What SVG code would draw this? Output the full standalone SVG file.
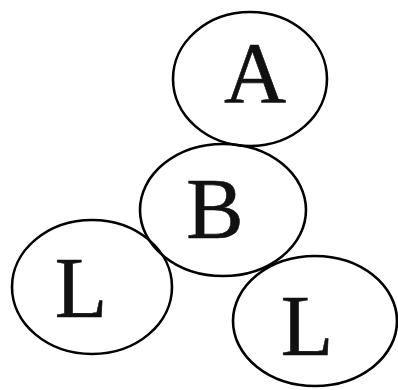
<svg xmlns="http://www.w3.org/2000/svg" width="398" height="390" viewBox="0 0 398 390">
<style>
.n{fill:none;stroke:#000;stroke-width:2.6}
.t{font-family:"Liberation Serif","Times New Roman",serif;font-size:86px;fill:#111;stroke:#111;stroke-width:0.6;text-anchor:middle}
</style>
<rect width="398" height="390" fill="#fff"/>
<g id="connectors"></g>
<g id="nodeA"><ellipse class="n" cx="250" cy="79" rx="77" ry="67"/><text class="t" x="255" y="102">A</text></g>
<g id="nodeB"><ellipse class="n" cx="223" cy="210" rx="83" ry="66"/><text class="t" x="215" y="238">B</text></g>
<g id="nodeL1"><ellipse class="n" cx="92" cy="287" rx="80" ry="67"/><text class="t" x="81" y="317">L</text></g>
<g id="nodeL2"><ellipse class="n" cx="315" cy="321" rx="82" ry="65"/><text class="t" x="307" y="355">L</text></g>
</svg>
